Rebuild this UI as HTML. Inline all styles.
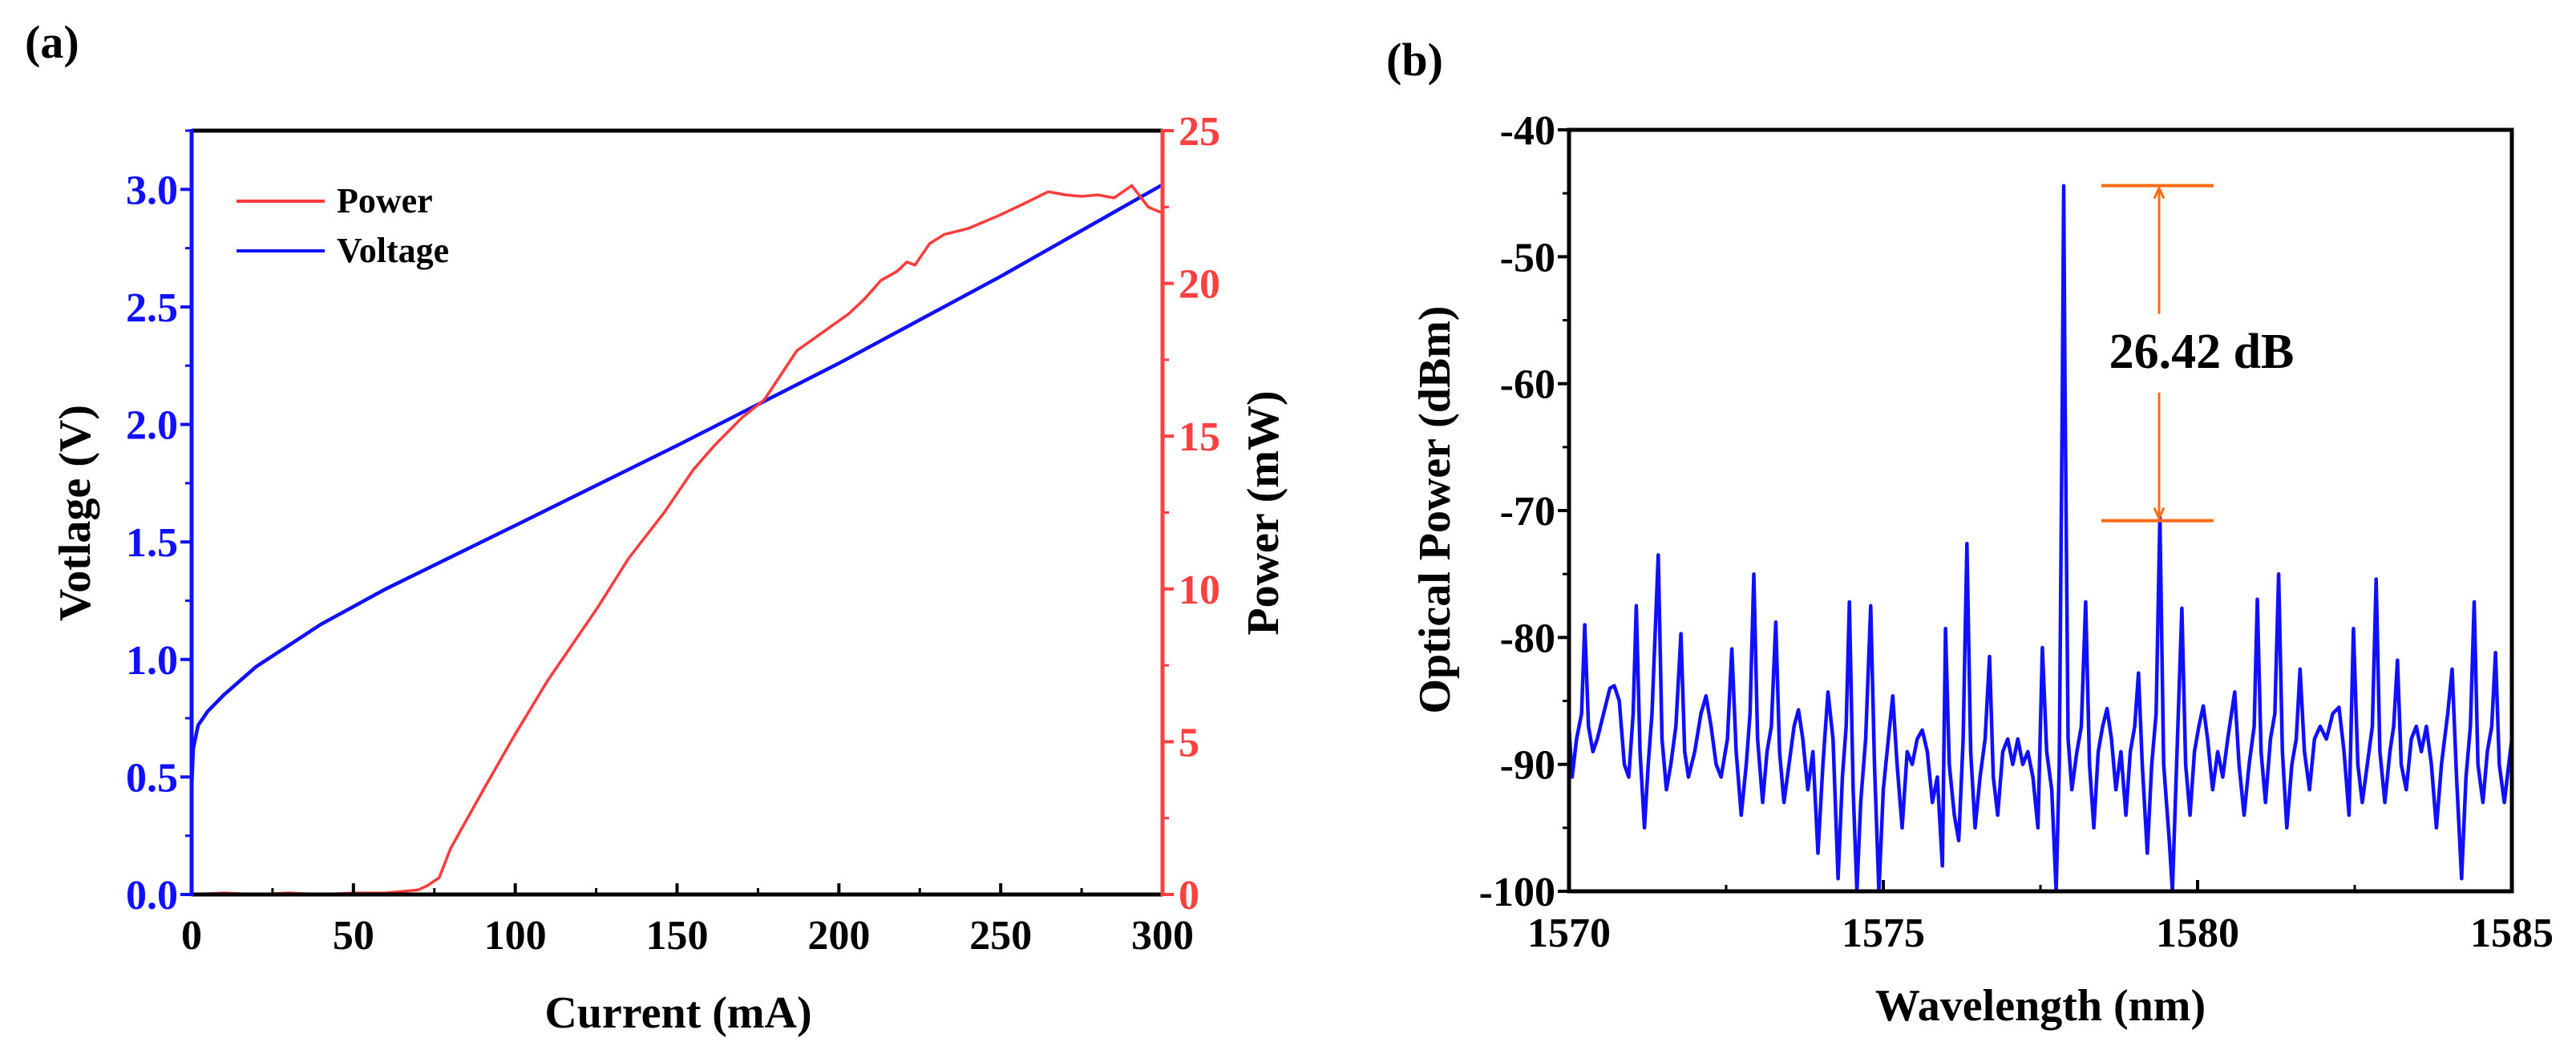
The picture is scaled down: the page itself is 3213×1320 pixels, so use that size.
<!DOCTYPE html>
<html><head><meta charset="utf-8"><style>
body{margin:0;background:#fff}
svg{display:block;font-family:"Liberation Serif",serif;font-weight:bold}
</style></head><body>
<svg id="fig" width="3213" height="1320" viewBox="0 0 3213 1320" xmlns="http://www.w3.org/2000/svg">
<rect width="3213" height="1320" fill="#fff"/>
<g id="pa"></g>
<g id="pb"></g>
</svg>
<script>
// Panel (a) data
const currentPts = [0,10,20,30,40,50,60,65,70,73,76.5,80,90,99.7,110,125.5,135,146,155,161.6,170,177,187,195,203,208,213,218,221,223.5,228,232.5,240,249,257,264.7,270,275,280,285,290.5,295.6,300];
const powerVals = [0,0.05,0,0.05,0,0.05,0.05,0.1,0.15,0.3,0.55,1.5,3.4,5.2,7.0,9.4,11.0,12.5,13.9,14.7,15.6,16.2,17.8,18.4,19.0,19.5,20.1,20.4,20.7,20.6,21.3,21.6,21.8,22.2,22.6,23.0,22.9,22.85,22.9,22.8,23.2,22.5,22.3];
const voltCurrent = [0,0.5,2,5,10,20,40,60,100,150,200,250,300];
const voltVals = [0.45,0.62,0.72,0.78,0.85,0.97,1.15,1.30,1.57,1.91,2.26,2.63,3.02];
const aXTicks = ["0","50","100","150","200","250","300"];
const aVTicks = ["0.0","0.5","1.0","1.5","2.0","2.5","3.0"];
const aPTicks = ["0","5","10","15","20","25"];
// Panel (b) data
const wl = [1570.00,1570.05,1570.12,1570.20,1570.25,1570.31,1570.38,1570.45,1570.55,1570.65,1570.72,1570.80,1570.88,1570.95,1571.02,1571.07,1571.13,1571.20,1571.26,1571.32,1571.42,1571.48,1571.55,1571.62,1571.70,1571.78,1571.84,1571.90,1572.00,1572.10,1572.18,1572.26,1572.34,1572.42,1572.52,1572.59,1572.66,1572.74,1572.82,1572.88,1572.94,1573.00,1573.08,1573.15,1573.22,1573.29,1573.35,1573.42,1573.50,1573.58,1573.65,1573.72,1573.80,1573.88,1573.96,1574.04,1574.12,1574.20,1574.28,1574.35,1574.41,1574.46,1574.52,1574.58,1574.64,1574.72,1574.80,1574.86,1574.93,1575.00,1575.08,1575.15,1575.22,1575.30,1575.38,1575.46,1575.54,1575.62,1575.70,1575.78,1575.86,1575.94,1575.99,1576.05,1576.13,1576.20,1576.27,1576.33,1576.39,1576.46,1576.54,1576.62,1576.69,1576.75,1576.82,1576.90,1576.98,1577.06,1577.14,1577.22,1577.30,1577.38,1577.46,1577.53,1577.60,1577.68,1577.75,1577.80,1577.85,1577.87,1577.89,1577.94,1578.00,1578.08,1578.15,1578.22,1578.28,1578.35,1578.42,1578.49,1578.56,1578.63,1578.70,1578.78,1578.86,1578.93,1579.00,1579.06,1579.12,1579.20,1579.27,1579.34,1579.40,1579.46,1579.55,1579.60,1579.66,1579.75,1579.81,1579.88,1579.95,1580.02,1580.09,1580.16,1580.24,1580.32,1580.40,1580.48,1580.59,1580.66,1580.74,1580.82,1580.90,1580.95,1581.01,1581.08,1581.16,1581.23,1581.29,1581.35,1581.42,1581.50,1581.57,1581.63,1581.70,1581.78,1581.86,1581.95,1582.05,1582.15,1582.25,1582.33,1582.41,1582.48,1582.55,1582.62,1582.70,1582.78,1582.84,1582.90,1582.98,1583.06,1583.12,1583.18,1583.24,1583.32,1583.40,1583.48,1583.56,1583.64,1583.72,1583.80,1583.88,1583.98,1584.05,1584.12,1584.20,1584.27,1584.34,1584.40,1584.46,1584.54,1584.61,1584.68,1584.74,1584.80,1584.88,1584.95,1585.00];
const opw = [-87,-91,-88,-86,-79,-87,-89,-88,-86,-84,-83.8,-85,-90,-91,-86,-77.5,-89,-95,-90,-86,-73.5,-88,-92,-90,-87,-79.7,-89,-91,-89,-86,-84.6,-87,-90,-91,-88,-80.9,-89,-94,-90,-86,-75,-88,-93,-89,-87,-78.8,-89,-93,-90,-87,-85.7,-88,-92,-89,-97,-90,-84.3,-88,-99,-91,-87,-77.2,-92,-100,-93,-88,-77.5,-90,-100,-92,-88,-84.6,-90,-95,-89,-90,-88,-87.3,-89,-93,-91,-98,-79.3,-90,-94,-96,-88,-72.6,-89,-95,-91,-88,-81.5,-91,-94,-89,-88,-90,-88,-90,-89,-91,-95,-80.8,-89,-92,-100,-90,-60,-44.4,-60,-88,-92,-89,-87,-77.2,-90,-95,-89,-87,-85.6,-88,-92,-89,-94,-89,-87,-82.8,-90,-97,-90,-86,-70.5,-90,-96,-100,-91,-77.7,-90,-94,-89,-87,-85.4,-88,-92,-89,-91,-88,-84.3,-90,-94,-90,-87,-77,-89,-93,-88,-86,-75,-89,-95,-90,-88,-82.5,-89,-92,-88,-87,-88,-86,-85.5,-89,-94,-79.3,-90,-93,-90,-87,-75.4,-89,-93,-89,-87,-81.8,-90,-92,-88,-87,-89,-87,-90,-95,-90,-86,-82.5,-91,-99,-91,-87,-77.2,-90,-93,-89,-87,-81.2,-90,-93,-90,-88];
const bXTicks = ["1570","1575","1580","1585"];
const bYTicks = ["-100","-90","-80","-70","-60","-50","-40"];
const smsr = ["26.42 dB"];
const peakTop = [-44.4];
const sideTop = [-70.8];

const NS="http://www.w3.org/2000/svg";
function mk(parent,tag,attrs,txt){const e=document.createElementNS(NS,tag);for(const k in attrs)e.setAttribute(k,attrs[k]);if(txt!==undefined)e.textContent=txt;parent.appendChild(e);return e;}

// ---------- Panel a ----------
const pa=document.getElementById('pa');
const A={l:239,r:1450,t:163,b:1116};
const ax=v=>A.l+(v/300)*(A.r-A.l);
const ayV=v=>A.b-(v/3.25)*(A.b-A.t);
const ayP=v=>A.b-(v/25)*(A.b-A.t);
let t;
t=mk(pa,'text',{x:31,y:72,'font-size':58,fill:'#000'},'(a)');

// series
let d=voltCurrent.map((c,i)=>(i?'L':'M')+ax(c).toFixed(1)+','+ayV(voltVals[i]).toFixed(1)).join('');
t=mk(pa,'path',{d:d,fill:'none',stroke:'#1010ff','stroke-width':4.5});

d=currentPts.map((c,i)=>(i?'L':'M')+ax(c).toFixed(1)+','+ayP(powerVals[i]).toFixed(1)).join('');
t=mk(pa,'path',{d:d,fill:'none',stroke:'#ff3b3b','stroke-width':3.5});

// axes
t=mk(pa,'line',{x1:A.l,y1:A.t,x2:A.r,y2:A.t,stroke:'#000','stroke-width':5});

t=mk(pa,'line',{x1:A.l,y1:A.b,x2:A.r,y2:A.b,stroke:'#000','stroke-width':5});

t=mk(pa,'line',{x1:A.l,y1:A.t-2,x2:A.l,y2:A.b+2,stroke:'#1010ff','stroke-width':5});

t=mk(pa,'line',{x1:A.r,y1:A.t-2,x2:A.r,y2:A.b+2,stroke:'#ff4040','stroke-width':5});

// x ticks
aXTicks.forEach((s,i)=>{const v=+s,x=ax(v);
 if(i>0&&i<aXTicks.length-1){t=mk(pa,'line',{x1:x,y1:A.b,x2:x,y2:A.b-14,stroke:'#000','stroke-width':4});}
 if(i<aXTicks.length-1){const xm=ax(v+25);t=mk(pa,'line',{x1:xm,y1:A.b,x2:xm,y2:A.b-8,stroke:'#000','stroke-width':3});}
 t=mk(pa,'text',{x:x,y:1184,'font-size':52,'text-anchor':'middle',fill:'#000'},s);
 });
aVTicks.forEach((s,i)=>{const v=+s,y=ayV(v);
 t=mk(pa,'line',{x1:A.l,y1:y,x2:A.l-14,y2:y,stroke:'#1010ff','stroke-width':4});
 const ym=ayV(v+0.25);t=mk(pa,'line',{x1:A.l,y1:ym,x2:A.l-8,y2:ym,stroke:'#1010ff','stroke-width':3});
 t=mk(pa,'text',{x:222,y:y+18,'font-size':52,'text-anchor':'end',fill:'#1010ff'},s);
 });
aPTicks.forEach((s,i)=>{const v=+s,y=ayP(v);
 t=mk(pa,'line',{x1:A.r,y1:y,x2:A.r+14,y2:y,stroke:'#ff4040','stroke-width':4});
 if(i<aPTicks.length-1){const ym=ayP(v+2.5);t=mk(pa,'line',{x1:A.r,y1:ym,x2:A.r+8,y2:ym,stroke:'#ff4040','stroke-width':3});}
 t=mk(pa,'text',{x:1470,y:y+18,'font-size':52,'text-anchor':'start',fill:'#ff4040'},s);
 });
t=mk(pa,'text',{x:846,y:1282,'font-size':56,'text-anchor':'middle',fill:'#000'},'Current (mA)');

t=mk(pa,'text',{x:0,y:0,'font-size':56,'text-anchor':'middle',fill:'#000',transform:'translate(112,640) rotate(-90)'},'Votlage (V)');

t=mk(pa,'text',{x:0,y:0,'font-size':56,'text-anchor':'middle',fill:'#000',transform:'translate(1594,640) rotate(-90)'},'Power (mW)');

// legend
t=mk(pa,'line',{x1:295,y1:251,x2:405,y2:251,stroke:'#ff3b3b','stroke-width':4});
t=mk(pa,'text',{x:420,y:265,'font-size':44,fill:'#000'},'Power');
t=mk(pa,'line',{x1:295,y1:313,x2:405,y2:313,stroke:'#1010ff','stroke-width':4});
t=mk(pa,'text',{x:420,y:327,'font-size':44,fill:'#000'},'Voltage');

// ---------- Panel b ----------
const pb=document.getElementById('pb');
const B={l:1957,r:3133,t:162,b:1112};
const bx=v=>B.l+((v-1570)/15)*(B.r-B.l);
const by=v=>B.b-((v+100)/60)*(B.b-B.t);
t=mk(pb,'text',{x:1729,y:94,'font-size':58,fill:'#000'},'(b)');

const cp=mk(pb,'clipPath',{id:'cb'});mk(cp,'rect',{x:B.l,y:B.t,width:B.r-B.l,height:B.b-B.t});
d=wl.map((w,i)=>(i?'L':'M')+bx(w).toFixed(1)+','+by(opw[i]).toFixed(1)).join('');
t=mk(pb,'path',{d:d,fill:'none',stroke:'#1010ff','stroke-width':4.5,'stroke-linejoin':'round','clip-path':'url(#cb)'});

t=mk(pb,'rect',{x:B.l,y:B.t,width:B.r-B.l,height:B.b-B.t,fill:'none',stroke:'#000','stroke-width':5});

bXTicks.forEach((s,i)=>{const v=+s,x=bx(v);
 if(i>0&&i<bXTicks.length-1){t=mk(pb,'line',{x1:x,y1:B.b,x2:x,y2:B.b-14,stroke:'#000','stroke-width':4});}
 if(i<bXTicks.length-1){const xm=bx(v+2.5);t=mk(pb,'line',{x1:xm,y1:B.b,x2:xm,y2:B.b-8,stroke:'#000','stroke-width':3});}
 t=mk(pb,'text',{x:x,y:1181,'font-size':52,'text-anchor':'middle',fill:'#000'},s);
 });
bYTicks.forEach((s,i)=>{const v=+s,y=by(v);
 t=mk(pb,'line',{x1:B.l,y1:y,x2:B.l-14,y2:y,stroke:'#000','stroke-width':4});
 if(i<bYTicks.length-1){const ym=by(v+5);t=mk(pb,'line',{x1:B.l,y1:ym,x2:B.l-8,y2:ym,stroke:'#000','stroke-width':3});}
 t=mk(pb,'text',{x:1940,y:y+18,'font-size':52,'text-anchor':'end',fill:'#000'},s);
 });
t=mk(pb,'text',{x:2545,y:1273,'font-size':56,'text-anchor':'middle',fill:'#000'},'Wavelength (nm)');

t=mk(pb,'text',{x:0,y:0,'font-size':56,'text-anchor':'middle',fill:'#000',transform:'translate(1808,636) rotate(-90)'},'Optical Power (dBm)');

// SMSR annotation
const OR='#ff6a13', ax1=2621, ax2=2761, axm=2693;
const yT=by(peakTop[0]), yS=by(sideTop[0]);
t=mk(pb,'line',{x1:ax1,y1:yT,x2:ax2,y2:yT,stroke:OR,'stroke-width':4});
t=mk(pb,'line',{x1:ax1,y1:yS,x2:ax2,y2:yS,stroke:OR,'stroke-width':4});
t=mk(pb,'line',{x1:axm,y1:yT+4,x2:axm,y2:yT+160,stroke:OR,'stroke-width':3});
t=mk(pb,'line',{x1:axm,y1:yS-4,x2:axm,y2:yS-160,stroke:OR,'stroke-width':3});
t=mk(pb,'path',{d:`M${axm-6},${yT+16}L${axm},${yT+3}L${axm+6},${yT+16}M${axm-6},${yS-16}L${axm},${yS-3}L${axm+6},${yS-16}`,fill:'none',stroke:OR,'stroke-width':3});

t=mk(pb,'text',{x:2746,y:459,'font-size':62,'text-anchor':'middle',fill:'#000'},smsr[0]);

</script>
</body></html>
